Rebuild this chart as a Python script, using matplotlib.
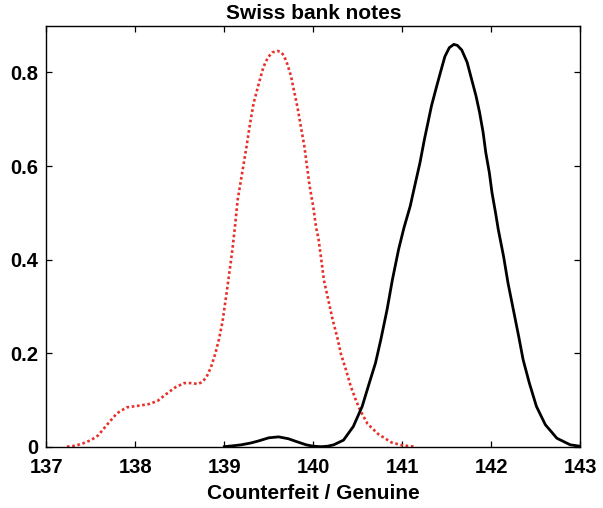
import matplotlib
matplotlib.use("Agg")
import matplotlib.pyplot as plt

# density estimates
counterfeit_x = [137.23, 137.32, 137.41, 137.50, 137.58, 137.69, 137.79, 137.90,
                 138.05, 138.15, 138.25, 138.35, 138.45, 138.55, 138.63, 138.70,
                 138.75, 138.80, 138.85, 138.90, 138.94, 138.98, 139.03, 139.06,
                 139.09, 139.12, 139.15, 139.20, 139.25, 139.29, 139.33, 139.39,
                 139.44, 139.49, 139.54, 139.60, 139.64, 139.67, 139.71, 139.75,
                 139.78, 139.82, 139.86, 139.90, 139.93, 139.96, 140.00, 140.03,
                 140.06, 140.09, 140.12, 140.17, 140.22, 140.27, 140.31, 140.37,
                 140.42, 140.48, 140.53, 140.61, 140.73, 140.88, 141.00, 141.14]
counterfeit_y = [0.000, 0.002, 0.007, 0.014, 0.024, 0.049, 0.071, 0.084,
                 0.088, 0.091, 0.098, 0.113, 0.127, 0.136, 0.136, 0.134,
                 0.138, 0.149, 0.170, 0.200, 0.230, 0.268, 0.335, 0.377,
                 0.420, 0.471, 0.528, 0.585, 0.642, 0.692, 0.735, 0.778,
                 0.812, 0.832, 0.843, 0.846, 0.843, 0.836, 0.817, 0.792,
                 0.764, 0.728, 0.685, 0.642, 0.599, 0.556, 0.513, 0.471,
                 0.443, 0.400, 0.356, 0.313, 0.270, 0.234, 0.199, 0.163,
                 0.130, 0.099, 0.077, 0.049, 0.027, 0.009, 0.003, 0.000]

genuine_x = [139.00, 139.10, 139.19, 139.30, 139.38, 139.50, 139.61, 139.72,
             139.81, 139.92, 140.00, 140.09, 140.16, 140.23, 140.34, 140.45,
             140.55, 140.63, 140.70, 140.76, 140.83, 140.89, 140.96, 141.02,
             141.09, 141.15, 141.20, 141.25, 141.29, 141.33, 141.38, 141.43,
             141.48, 141.53, 141.58, 141.62, 141.67, 141.73, 141.78, 141.83,
             141.87, 141.91, 141.94, 141.98, 142.01, 142.05, 142.08, 142.14,
             142.19, 142.25, 142.31, 142.36, 142.43, 142.51, 142.61, 142.74,
             142.89, 143.00]
genuine_y = [0.000, 0.002, 0.004, 0.008, 0.012, 0.019, 0.021, 0.017,
             0.011, 0.004, 0.001, 0.000, 0.001, 0.004, 0.014, 0.043,
             0.086, 0.136, 0.179, 0.229, 0.293, 0.357, 0.422, 0.468,
             0.514, 0.565, 0.607, 0.657, 0.693, 0.729, 0.765, 0.800,
             0.834, 0.853, 0.860, 0.858, 0.848, 0.822, 0.786, 0.750,
             0.715, 0.672, 0.629, 0.586, 0.543, 0.500, 0.465, 0.407,
             0.350, 0.293, 0.236, 0.186, 0.136, 0.086, 0.047, 0.018,
             0.004, 0.001]

x_ticks = [137, 138, 139, 140, 141, 142, 143]
y_ticks = [0, 0.2, 0.4, 0.6, 0.8]
y_tick_labels = ["0", "0.2", "0.4", "0.6", "0.8"]

plt.rcParams["font.family"] = ["Liberation Sans", "DejaVu Sans"]
plt.rcParams["font.weight"] = "bold"

fig = plt.figure(figsize=(6.03, 5.08), dpi=100)
ax = fig.add_axes([0.0771, 0.1207, 0.8848, 0.8287])

ax.plot(counterfeit_x, counterfeit_y, color="#e8302a", lw=1.9,
        linestyle=(0, (1, 1.0)))
ax.plot(genuine_x, genuine_y, color="black", lw=2.0, solid_joinstyle="round")

ax.set_xlim(137, 143)
ax.set_ylim(0, 0.9)
ax.set_xticks(x_ticks)
ax.set_yticks(y_ticks)
ax.set_yticklabels(y_tick_labels)
ax.tick_params(direction="in", length=4, width=0.9, top=True, right=True,
               labelsize=14.5)
ax.tick_params(axis="x", pad=8)
ax.tick_params(axis="y", pad=6)
for lab in ax.get_xticklabels() + ax.get_yticklabels():
    lab.set_fontweight("bold")
for sp in ax.spines.values():
    sp.set_linewidth(1.0)

ax.set_title("Swiss bank notes", fontsize=15, fontweight="bold", pad=5)
ax.set_xlabel("Counterfeit / Genuine", fontsize=15, fontweight="bold",
              labelpad=5)

fig.savefig("out.png", dpi=100)
